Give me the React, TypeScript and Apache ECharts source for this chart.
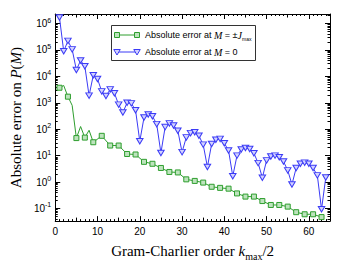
import { useEffect, useRef } from 'react';
import * as echarts from 'echarts';

// Gram-Charlier order k_max/2 for each series
const ordersM0: number[] = [
  1, 2, 3, 4, 5, 6, 7, 8, 9, 10, 11, 12, 13, 14, 15, 16, 17, 18, 19, 20, 21, 22, 23, 24, 25, 26, 27, 28, 29, 30, 31, 32,
  33, 34, 35, 36, 37, 38, 39, 40, 41, 42, 43, 44, 45, 46, 47, 48, 49, 50, 51, 52, 53, 54, 55, 56, 57, 58, 59, 60, 61, 62, 63, 64,
];
// Absolute error at M = 0
const errorM0: number[] = [
  1.7e6, 8.9e4, 2.2e5, 1.05e5, 1.74e4, 4.0e4, 2.4e4, 1.86e3, 1.1e4, 7.9e3, 2.7e3, 1.8e3, 3.2e3, 2.3e3, 850, 430,
  1000, 950, 520, 35, 275, 360, 310, 155, 12.6, 120, 166, 138, 87, 13.5, 49, 71,
  76, 56, 26, 3.7, 27.5, 40, 43, 29.5, 15.5, 1.66, 10, 17, 19.5, 17.8, 12.3, 5.2,
  1.45, 6.6, 9.3, 10, 8.7, 6.0, 2.75, 0.81, 3.4, 4.9, 5.4, 4.9, 3.4, 1.78, 0.093, 1.48,
];
const ordersJmax: number[] = [
  1, 2, 3, 4, 5, 6, 7, 8, 9, 11, 13, 15, 17, 19, 21, 23, 25, 27, 29, 31, 33, 35, 37, 39, 41, 43, 45, 47, 49, 51, 53, 55,
  57, 59, 61, 63,
];
// Absolute error at M = ±J_max
const errorJmax: number[] = [
  3700, 4500, 1700, 800, 46, 126, 48, 91, 32, 56, 24, 24, 11.5, 11, 5.8, 4.9, 3.4, 2.4, 2.3, 1.26, 1.1, 0.95, 0.66, 0.6,
  0.56, 0.37, 0.28, 0.28, 0.19, 0.135, 0.135, 0.117, 0.072, 0.06, 0.06, 0.047,
];
const yExponents: number[] = [-1, 0, 1, 2, 3, 4, 5, 6];
const xLabels: number[] = [0, 10, 20, 30, 40, 50, 60];

const GREEN = '#2e9e2e';
const GREEN_FILL = '#bde3bd';
const BLUE = '#3b3bf6';
const BLUE_FILL = '#d2d2ff';
const LOG_MIN = -1.48;
const LOG_MAX = 6.36;
const SANS = '"Liberation Sans", Arial, sans-serif';
const SERIF = '"Liberation Serif", "Times New Roman", serif';

const minorLogs: number[] = [];
for (let n = -2; n <= 6; n++) {
  for (let k = 2; k <= 9; k++) {
    const v = n + Math.log10(k);
    if (v > LOG_MIN && v < LOG_MAX) minorLogs.push(v);
  }
}

export default function App() {
  const ref = useRef<HTMLDivElement>(null);
  useEffect(() => {
    if (!ref.current) return;
    const chart = echarts.init(ref.current, null, { renderer: 'svg' });
    const yLabelRich = {
      b: { fontSize: 10, fontFamily: SANS, color: '#000', lineHeight: 14, verticalAlign: 'middle' },
      s: { fontSize: 7, fontFamily: SANS, color: '#000', lineHeight: 7, verticalAlign: 'top' },
    };
    const axisLineOn = { show: true, onZero: false, lineStyle: { color: '#000', width: 1 } };
    const axisLineOff = { show: false, onZero: false };
    const baseY = {
      type: 'value',
      min: LOG_MIN,
      max: LOG_MAX,
      splitLine: { show: false },
      axisLine: axisLineOn,
    };
    const baseX = {
      type: 'value',
      min: 0,
      max: 65,
      interval: 5,
      splitLine: { show: false },
      axisLine: axisLineOn,
      axisTick: { show: true, inside: true, length: 3.5, lineStyle: { color: '#000' } },
      minorTick: { show: true, splitNumber: 5, length: 2, lineStyle: { color: '#000' } },
    };
    const legendRich = {
      i: { fontFamily: SERIF, fontStyle: 'italic', fontSize: 10, fill: '#000', lineHeight: 12 },
      sub: { fontFamily: SANS, fontSize: 5, fill: '#000', lineHeight: 5, verticalAlign: 'bottom' },
    };
    chart.setOption({
      animation: false,
      backgroundColor: '#fff',
      grid: { left: 47, top: 14, right: 14, bottom: 43, containLabel: false },
      xAxis: [
        {
          ...baseX,
          position: 'bottom',
          axisLabel: {
            show: true,
            margin: 5,
            fontSize: 10,
            fontFamily: SANS,
            color: '#000',
            formatter: (v: number) => (xLabels.includes(v) ? String(v) : ''),
          },
          name: 'Gram-Charlier order {i|k}{sub|max}/2',
          nameLocation: 'middle',
          nameGap: 18,
          nameTextStyle: {
            fontFamily: SERIF,
            fontSize: 15,
            color: '#000',
            lineHeight: 20,
            rich: {
              i: { fontFamily: SERIF, fontStyle: 'italic', fontSize: 15, color: '#000', lineHeight: 20 },
              sub: { fontFamily: SERIF, fontSize: 10, color: '#000', lineHeight: 10, verticalAlign: 'bottom' },
            },
          },
        },
        { ...baseX, position: 'top', axisLabel: { show: false } },
        {
          ...baseX,
          position: 'bottom',
          axisLine: axisLineOff,
          minorTick: { show: false },
          axisLabel: { show: false },
          axisTick: { show: true, inside: true, length: 5, customValues: xLabels, lineStyle: { color: '#000' } },
        },
        {
          ...baseX,
          position: 'top',
          axisLine: axisLineOff,
          minorTick: { show: false },
          axisLabel: { show: false },
          axisTick: { show: true, inside: true, length: 5, customValues: xLabels, lineStyle: { color: '#000' } },
        },
      ],
      yAxis: [
        {
          ...baseY,
          position: 'left',
          axisTick: { show: true, inside: true, length: 5, customValues: yExponents, lineStyle: { color: '#000' } },
          axisLabel: {
            show: true,
            margin: 4,
            customValues: yExponents,
            formatter: (v: number) => `{b|10}{s|${Math.round(v)}}`,
            rich: yLabelRich,
          },
          name: 'Absolute error on {i|P}({i|M})',
          nameLocation: 'middle',
          nameRotate: 90,
          nameGap: 25,
          nameTextStyle: {
            fontFamily: SERIF,
            fontSize: 15,
            color: '#000',
            rich: { i: { fontFamily: SERIF, fontStyle: 'italic', fontSize: 15, color: '#000' } },
          },
        },
        {
          ...baseY,
          position: 'right',
          axisTick: { show: true, inside: true, length: 5, customValues: yExponents, lineStyle: { color: '#000' } },
          axisLabel: { show: false },
        },
        {
          ...baseY,
          position: 'left',
          axisLine: axisLineOff,
          axisTick: { show: true, inside: true, length: 2.5, customValues: minorLogs, lineStyle: { color: '#000' } },
          axisLabel: { show: false },
        },
        {
          ...baseY,
          position: 'right',
          axisLine: axisLineOff,
          axisTick: { show: true, inside: true, length: 2.5, customValues: minorLogs, lineStyle: { color: '#000' } },
          axisLabel: { show: false },
        },
      ],
      series: [
        {
          name: 'Absolute error at M = ±J_max',
          type: 'line',
          xAxisIndex: 0,
          yAxisIndex: 0,
          showAllSymbol: true,
          symbol: 'rect',
          symbolSize: 5,
          lineStyle: { color: GREEN, width: 1 },
          itemStyle: { color: GREEN_FILL, borderColor: GREEN, borderWidth: 1 },
          data: ordersJmax.map((x, i) => ({
            value: [x, Math.log10(errorJmax[i])],
            symbol: x % 2 === 1 ? 'rect' : 'none',
          })),
          z: 3,
        },
        {
          name: 'Absolute error at M = 0',
          type: 'line',
          xAxisIndex: 0,
          yAxisIndex: 0,
          showAllSymbol: true,
          symbol: 'triangle',
          symbolRotate: 180,
          symbolSize: [6.5, 5.5],
          lineStyle: { color: BLUE, width: 1 },
          itemStyle: { color: BLUE_FILL, borderColor: BLUE, borderWidth: 1 },
          data: ordersM0.map((x, i) => [x, Math.log10(errorM0[i])]),
          z: 2,
        },
      ],
      graphic: [
        {
          type: 'rect',
          shape: { x: 111.5, y: 25.5, width: 144, height: 35 },
          style: { fill: '#fff', stroke: '#333', lineWidth: 1 },
          z: 10,
        },
        {
          type: 'line',
          shape: { x1: 117, y1: 35, x2: 137, y2: 35 },
          style: { stroke: GREEN, lineWidth: 1 },
          z: 11,
        },
        {
          type: 'rect',
          shape: { x: 114.5, y: 32.5, width: 5, height: 5 },
          style: { fill: GREEN_FILL, stroke: GREEN, lineWidth: 1 },
          z: 12,
        },
        {
          type: 'rect',
          shape: { x: 134.5, y: 32.5, width: 5, height: 5 },
          style: { fill: GREEN_FILL, stroke: GREEN, lineWidth: 1 },
          z: 12,
        },
        {
          type: 'line',
          shape: { x1: 117, y1: 52, x2: 137, y2: 52 },
          style: { stroke: BLUE, lineWidth: 1 },
          z: 11,
        },
        {
          type: 'polygon',
          shape: { points: [[113.75, 49.5], [120.25, 49.5], [117, 55]] },
          style: { fill: BLUE_FILL, stroke: BLUE, lineWidth: 1 },
          z: 12,
        },
        {
          type: 'polygon',
          shape: { points: [[133.75, 49.5], [140.25, 49.5], [137, 55]] },
          style: { fill: BLUE_FILL, stroke: BLUE, lineWidth: 1 },
          z: 12,
        },
        {
          type: 'text',
          x: 145,
          y: 35,
          z: 12,
          style: {
            text: 'Absolute error at {i|M} = ±{i|J}{sub|max}',
            fontFamily: SANS,
            fontSize: 9,
            fill: '#000',
            lineHeight: 12,
            verticalAlign: 'middle',
            rich: legendRich,
          },
        },
        {
          type: 'text',
          x: 145,
          y: 52,
          z: 12,
          style: {
            text: 'Absolute error at {i|M} = 0',
            fontFamily: SANS,
            fontSize: 9,
            fill: '#000',
            lineHeight: 12,
            verticalAlign: 'middle',
            rich: legendRich,
          },
        },
      ],
    });
    return () => chart.dispose();
  }, []);
  return <div ref={ref} style={{ position: 'fixed', left: 0, top: 0, width: 344, height: 266 }} />;
}
